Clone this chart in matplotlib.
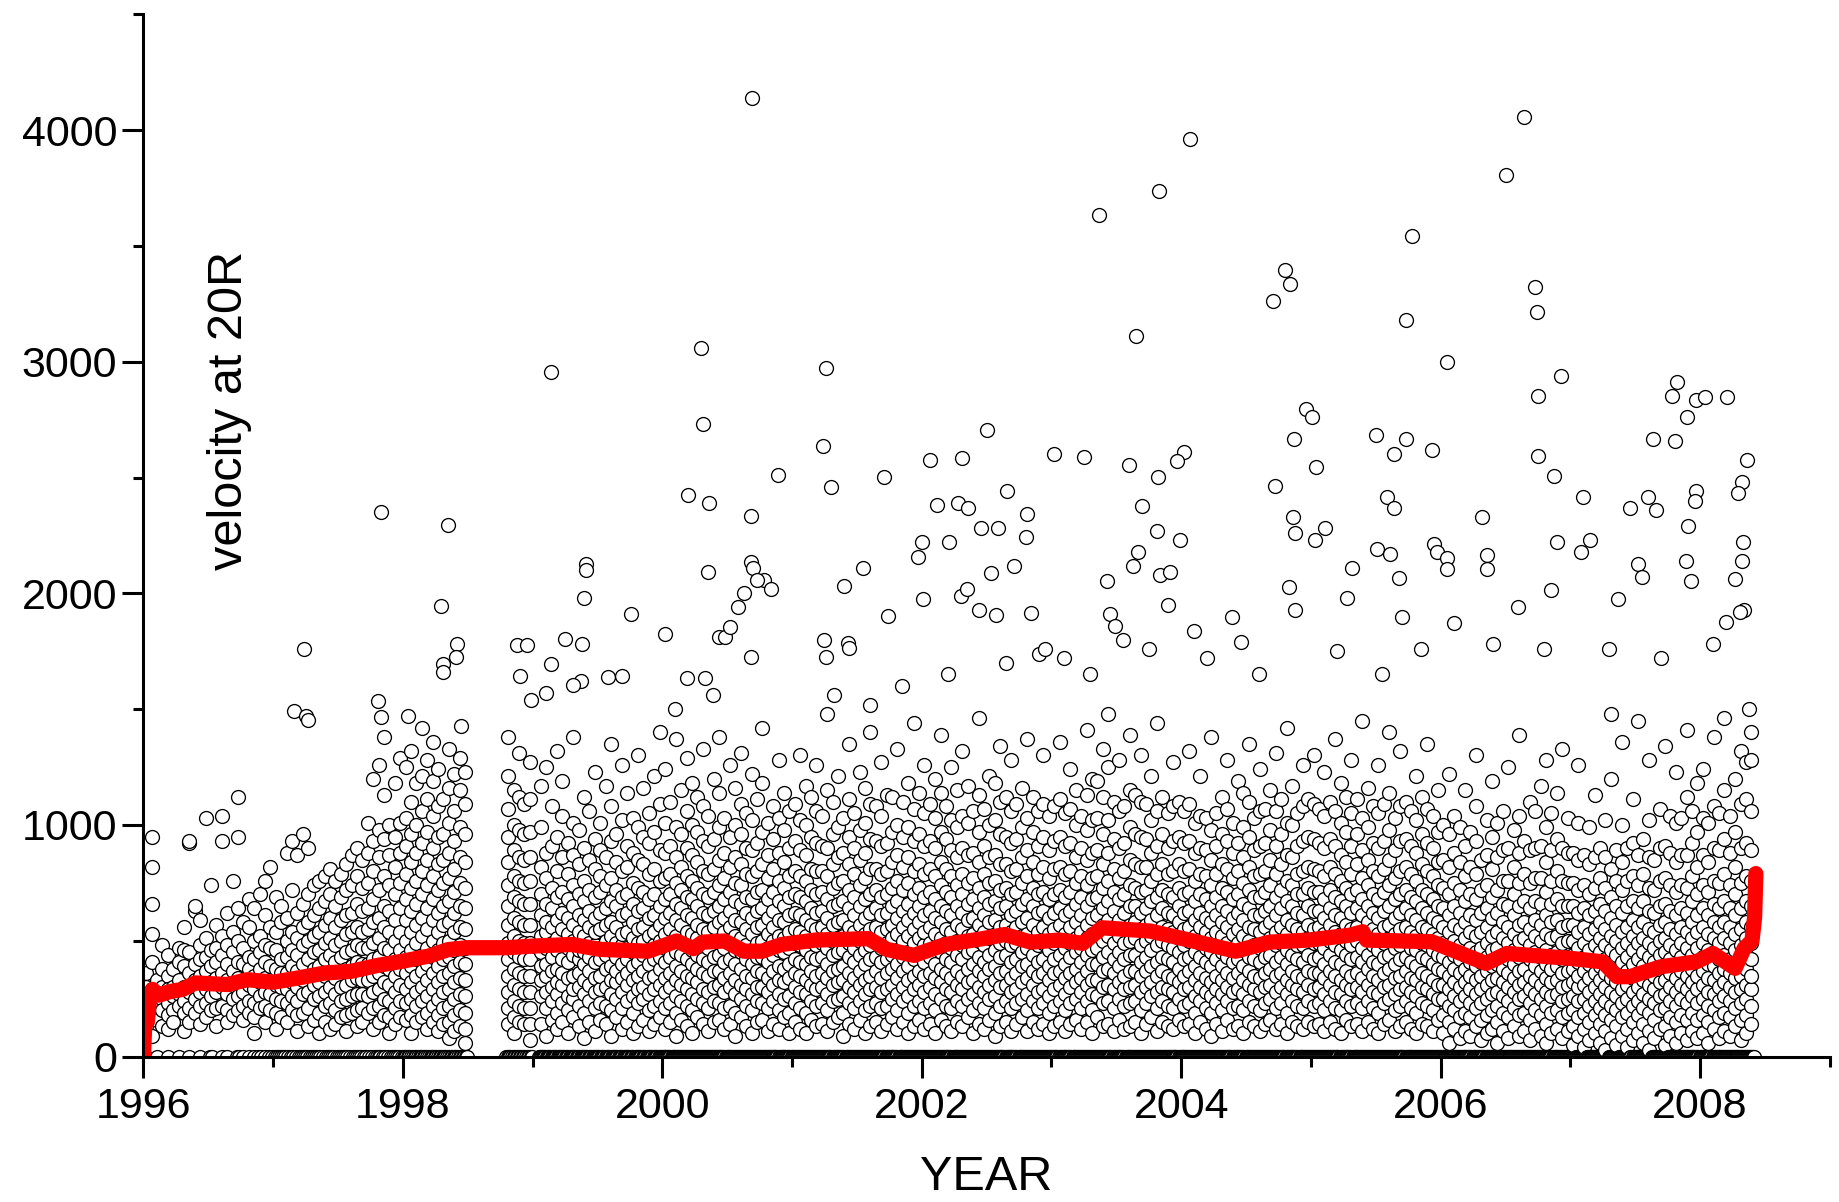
import matplotlib.pyplot as plt
import numpy as np
import matplotlib.ticker as ticker

plt.rcParams['font.family'] = ['Liberation Sans', 'DejaVu Sans']

# ===== CME speeds at 20 Rsun in half-month bins =====
# (each string = the speeds seen in one half-month, km/s; "" = data gap)
speeds_1996 = [
    "360 300 250 220 180 130 0", "950 820 530 660 410 290 240 170 90", "330 270 210 160 0",
    "480 380 300 250 200 130", "440 350 290 230 180 120 0", "380 300 260 200 150",
    "470 410 330 270 220 0", "560 460 390 300 240 190 110", "920 930 450 360 280 210 150 0",
    "630 650 400 330 250 190", "590 480 420 350 280 220 140 0", "1030 510 430 370 290 230 170",
    "740 460 390 320 260 200 0 0", "570 470 410 340 280 210 130", "930 1040 520 440 360 300 220 0",
    "620 480 400 330 270 200 150 0", "760 540 450 370 310 250 180", "1120 950 640 500 410 340 260 200 0 0",
    "580 470 400 330 280 220 160 0", "680 560 430 380 310 240 190 0", "640 500 420 350 290 230 170 100 0",
    "700 520 450 380 320 260 210 0 0", "760 610 480 410 340 280 220 150 0", "820 560 470 390 330 270 200 0 0",
]
speeds_1997 = [
    "690 540 460 380 310 250 190 120 0", "650 580 420 360 300 240 170 0 0",
    "880 600 500 430 360 290 230 150 0", "930 720 540 460 390 320 260 200 0",
    "870 620 510 440 370 300 240 180 110 0", "960 660 560 480 400 330 270 190 0 0",
    "900 700 580 500 420 350 280 210 130 0", "740 610 520 450 380 310 250 160 0 0",
    "760 640 540 460 390 320 260 190 100 0", "780 670 570 490 420 350 280 220 150 0",
    "810 700 600 510 440 360 300 230 120 0 0", "760 650 560 480 410 340 270 200 140 0",
    "790 690 590 500 430 370 300 240 170 0 0", "830 720 610 530 450 380 310 250 180 110 0",
    "870 740 620 540 460 390 330 260 190 0", "900 780 660 560 480 410 340 270 200 130 0 0",
    "850 730 630 540 470 400 330 270 210 150 0", "1010 880 750 640 550 470 400 330 260 190 0",
    "1200 930 800 680 580 490 420 350 280 210 120 0", "1260 980 860 720 600 510 430 360 290 220 150 0 0",
    "1380 1130 940 780 650 560 470 390 320 250 180 0", "1000 870 740 630 540 460 380 310 240 170 100 0",
    "1180 950 820 700 590 500 420 350 280 210 140 0 0", "1290 1010 880 750 640 540 460 380 310 240 170 0",
]
speeds_1998 = [
    "1250 1030 910 790 680 590 500 430 360 290 230 160 0 0",
    "1320 1100 960 840 730 630 540 460 390 320 250 180 100 0",
    "1180 1000 880 760 660 570 490 420 350 280 220 150 0",
    "1420 1210 1060 920 800 700 600 520 440 370 300 240 170 0 0",
    "1280 1110 970 850 740 640 550 470 400 330 260 190 120 0",
    "1360 1190 1040 900 780 680 590 500 430 360 290 220 150 0 0",
    "1240 1080 950 830 720 620 540 460 390 320 250 180 110 0",
    "1110 960 850 750 650 570 490 420 350 280 210 140 0 0",
    "1330 1160 1010 880 770 670 580 500 430 360 290 220 150 80 0",
    "1220 1060 930 810 710 620 540 460 390 320 250 180 110 0 0",
    "1290 1150 990 860 750 650 560 480 410 340 270 200 130 0",
    "1230 1090 960 840 730 640 550 470 400 330 260 190 120 60 0 0",
    "", "", "", "", "", "", "",
    "1380 1210 1070 950 840 740 650 570 490 420 350 280 210 140 0 0",
    "1150 1000 890 780 690 600 520 450 380 310 240 170 100 0",
    "1310 1120 980 860 760 670 580 500 430 360 290 220 150 0 0",
    "1090 960 850 750 660 570 490 420 350 280 210 140 0",
    "1270 1110 970 860 760 660 570 490 420 350 280 210 140 70 0 0",
]
speeds_1999 = [
    "", "0 0 140 260 330 390 450 520 610 700 820 990 1170",
    "0 90 210 280 350 400 470 540 580 660 770 880 1250", "0 0 160 240 300 370 430 490 560 640 730 910 1080",
    "0 120 190 270 320 380 460 510 590 690 800 950 1320", "0 0 150 230 310 360 420 480 550 620 710 860 1040 1190",
    "0 100 200 260 340 410 470 530 600 680 790 920", "0 0 170 250 290 350 440 500 570 650 740 870 1010 1380",
    "0 130 220 300 360 420 460 540 610 700 830 980", "0 0 80 190 270 330 400 450 520 590 670 760 900 1120",
    "0 150 240 310 370 430 490 560 630 720 850 1060", "0 0 110 210 280 340 410 480 540 600 690 810 940 1230",
    "0 160 230 290 350 420 470 550 620 710 780 890 1010", "0 0 140 220 300 380 440 500 570 640 740 860 1170",
    "0 90 200 270 330 390 460 520 580 670 770 930 1080 1350", "0 0 170 250 320 370 430 490 560 650 720 840 960",
    "0 120 210 280 340 400 480 530 610 690 800 1020 1260", "0 0 150 240 310 360 420 470 540 620 700 820 910 1140",
    "0 100 190 260 330 390 450 510 580 660 750 880 1030", "0 0 130 230 290 350 410 490 550 630 730 850 990 1300",
    "0 160 250 300 370 440 500 560 640 710 830 950 1160", "0 0 110 200 270 340 400 460 520 600 680 790 920 1050",
    "0 140 220 290 350 420 480 540 610 700 810 970 1210", "0 0 170 240 310 380 430 500 570 650 760 890 1090 1400",
]
speeds_2000 = [
    "0 0 120 210 280 340 410 470 530 600 680 770 880 1010 1240", "0 150 230 300 360 430 490 550 620 700 790 910 1100",
    "0 0 90 190 260 330 390 450 520 590 660 750 860 990 1370", "0 160 240 310 370 440 500 570 640 720 820 960 1150",
    "0 0 130 220 290 350 420 480 540 610 690 780 900 1060 1290", "0 100 200 270 340 400 460 530 600 680 760 870 1000 1180",
    "0 0 170 250 320 380 440 510 570 650 730 840 970 1120", "0 140 230 290 360 420 490 550 620 700 800 930 1080 1330",
    "0 0 110 210 280 350 410 470 540 610 690 790 910 1040", "0 150 240 300 370 430 500 560 630 710 810 940 1200",
    "0 0 160 230 310 370 440 500 580 650 740 850 990 1140 1380", "0 120 210 280 340 410 470 540 600 680 770 880 1030",
    "0 0 140 220 300 360 420 490 560 630 710 820 950 1260", "0 90 190 270 330 400 460 520 590 670 750 860 1000 1160",
    "0 0 170 250 310 380 450 510 580 660 740 830 960 1090 1310", "0 130 220 290 350 420 480 550 620 690 790 900 1050",
    "0 0 100 200 270 340 400 460 530 600 680 780 890 1020 1220", "0 150 240 300 370 430 490 560 630 710 800 920 1110",
    "0 0 160 230 300 360 430 500 570 640 720 830 970 1180 1420", "0 110 210 280 340 410 470 530 600 680 770 870 1010",
    "0 0 140 240 310 370 440 500 560 630 710 810 940 1080", "0 120 200 270 330 390 460 520 590 670 760 880 1030 1280",
    "0 0 170 250 320 380 450 510 580 650 730 840 980 1140", "0 100 190 260 340 400 470 540 610 690 780 900 1060",
]
speeds_2001 = [
    "0 0 150 230 300 360 420 490 550 620 700 800 930 1090", "0 120 210 280 350 410 480 540 610 690 780 890 1020 1300",
    "0 0 100 190 270 330 400 460 520 590 670 760 870 1000 1170", "0 160 240 310 370 430 500 570 640 720 810 950 1120",
    "0 0 130 220 290 350 420 480 550 620 700 800 920 1060 1260", "0 140 230 300 360 430 490 560 630 710 800 910 1040",
    "0 0 110 200 270 340 400 470 530 600 680 780 900 1150 1480", "0 150 240 310 370 440 500 570 650 730 830 960 1100",
    "0 0 170 250 320 380 450 510 580 660 750 860 990 1210", "0 90 190 260 330 390 460 520 590 670 760 880 1030",
    "0 0 140 230 300 360 430 490 560 640 720 830 950 1110 1350", "0 120 210 280 340 410 470 540 610 690 790 900 1050",
    "0 0 160 240 310 370 440 500 570 650 740 850 980 1230", "0 100 200 270 330 400 460 530 600 680 770 880 1010 1160",
    "0 0 130 220 290 350 420 480 550 620 700 810 940 1090 1400", "0 150 230 300 370 430 500 560 640 720 810 930 1080",
    "0 0 110 210 280 340 410 470 540 610 690 790 910 1040 1270", "0 140 220 290 360 420 490 550 620 700 800 920 1130",
    "0 0 170 250 310 380 440 510 570 650 730 840 970 1120", "0 120 200 270 340 400 460 530 600 670 760 870 1000 1330",
    "0 0 150 240 300 370 430 500 560 630 720 820 950 1100", "0 100 190 260 330 390 450 520 590 660 750 860 990 1180",
    "0 0 130 220 290 350 420 490 550 620 700 800 930 1070 1440", "0 160 240 310 370 440 510 580 650 730 830 960 1140",
]
speeds_2002 = [
    "0 0 120 210 280 350 410 480 540 610 690 790 910 1050 1260", "0 140 230 300 360 430 490 560 630 710 810 930 1090",
    "0 0 100 200 270 340 400 470 530 600 680 780 900 1030 1200", "0 160 250 320 380 450 510 580 650 740 840 970 1140 1390",
    "0 0 130 220 290 360 420 490 550 630 710 810 940 1080", "0 110 210 280 340 410 470 540 610 690 780 890 1020 1250",
    "0 0 150 240 310 370 440 500 570 650 740 860 990 1150", "0 130 220 290 350 420 480 550 620 700 790 900 1040 1320",
    "0 0 170 250 320 380 450 520 590 660 750 870 1010 1170", "0 100 200 270 330 400 460 530 600 680 770 880 1060",
    "0 0 140 230 300 370 430 500 570 640 730 840 970 1130 1460", "0 120 210 280 350 410 480 540 610 690 790 910 1070",
    "0 0 160 250 310 380 440 510 580 660 750 860 1000 1210", "0 90 190 260 330 390 460 520 590 670 760 870 1020 1180",
    "0 0 130 220 300 360 430 490 560 640 720 830 960 1100 1340", "0 150 240 310 370 440 500 570 650 730 830 950 1120",
    "0 0 110 210 280 340 410 480 540 610 700 800 920 1060 1280", "0 140 230 290 360 420 490 560 630 710 810 940 1090",
    "0 0 170 250 320 390 450 520 580 660 750 860 990 1160", "0 110 200 270 340 400 470 530 600 680 780 890 1030 1370",
    "0 0 150 240 310 370 440 500 570 650 730 840 970 1120", "0 120 210 280 350 410 480 540 620 700 790 910 1060",
    "0 0 140 230 290 360 420 490 560 630 710 820 950 1090 1300", "0 100 190 260 330 390 460 530 600 680 770 890 1040",
]
speeds_2003 = [
    "0 0 130 220 290 360 420 490 550 620 700 810 930 1080", "0 150 240 310 370 440 500 570 640 720 820 950 1110 1360",
    "0 0 110 200 270 340 400 470 530 610 690 790 910 1050", "0 140 230 300 360 430 490 560 630 710 800 920 1070 1240",
    "0 0 160 250 320 380 450 510 580 660 750 860 1000 1150", "0 120 210 280 340 410 470 540 610 690 780 900 1040",
    "0 0 150 240 310 370 440 510 570 650 740 850 980 1130 1410", "0 100 200 270 330 400 460 530 600 680 770 880 1020 1200",
    "0 0 170 260 330 400 470 540 610 690 780 890 1030 1190", "0 130 230 300 370 430 500 570 640 730 830 960 1120 1330",
    "0 0 140 240 310 380 450 520 590 670 760 880 1020 1250 1480", "0 110 210 290 360 420 490 560 630 710 810 940 1100",
    "0 0 160 250 320 390 450 520 590 680 770 900 1060 1280", "0 120 220 290 350 420 490 550 620 700 800 920 1080",
    "0 0 130 230 300 370 440 500 570 650 740 850 990 1150 1390", "0 150 240 310 370 440 510 580 650 730 830 960 1130",
    "0 0 100 200 280 350 410 480 550 620 710 820 950 1100 1300", "0 140 230 300 370 430 500 570 640 720 820 940 1090",
    "0 0 170 260 320 390 460 520 590 670 760 880 1020 1210", "0 110 210 280 350 410 480 540 610 690 790 910 1060 1440",
    "0 0 150 240 300 370 430 500 560 640 720 830 960 1120", "0 130 220 290 350 420 480 550 620 700 790 900 1050",
    "0 0 120 210 280 340 410 470 540 610 690 800 930 1080 1270", "0 160 250 320 380 450 510 580 650 730 830 950 1100",
]
speeds_2004 = [
    "0 0 130 220 290 350 420 480 550 620 700 800 920 1060", "0 140 230 300 370 430 500 560 630 710 810 930 1090 1320",
    "0 0 100 190 260 330 390 450 520 590 670 760 880 1010", "0 150 240 300 360 430 490 560 620 700 790 900 1040 1210",
    "0 0 120 210 280 340 410 470 540 600 680 780 890 1030", "0 90 190 260 320 390 450 510 580 650 740 850 980 1380",
    "0 0 140 230 290 350 420 480 540 610 690 790 910 1050", "0 110 200 270 330 390 450 520 580 650 730 830 960 1120",
    "0 0 160 240 300 360 430 490 560 630 710 810 930 1070 1280", "0 120 210 280 340 410 470 530 600 680 770 880 1010",
    "0 0 130 220 290 360 420 490 550 620 700 800 920 1190", "0 100 200 270 330 390 460 520 590 660 750 860 990 1140",
    "0 0 150 240 310 370 430 500 560 640 720 820 950 1100 1350", "0 130 220 290 350 420 480 550 610 690 780 890 1030",
    "0 0 110 200 280 340 410 470 540 610 690 790 910 1060 1240", "0 140 230 300 360 430 490 560 630 710 800 920 1070",
    "0 0 160 250 310 380 440 510 580 650 740 850 980 1150", "0 120 210 280 350 410 480 540 610 690 790 910 1060 1310",
    "0 0 140 230 300 360 430 490 560 640 720 830 960 1110", "0 100 190 270 330 400 460 530 590 670 760 870 1010 1420",
    "0 0 150 240 310 370 440 500 570 650 740 860 1000 1170", "0 130 220 290 350 420 480 550 620 700 790 910 1050",
    "0 0 120 210 280 340 410 480 540 610 700 800 930 1080 1260", "0 150 240 310 370 440 510 570 650 730 820 950 1110",
]
speeds_2005 = [
    "0 0 130 220 290 360 420 490 550 630 710 810 940 1090 1300", "0 140 230 300 360 430 490 560 630 710 800 920 1070",
    "0 0 110 200 270 340 400 470 530 600 680 780 900 1040 1230", "0 150 240 310 370 440 500 570 640 720 820 940 1100",
    "0 0 120 210 280 350 410 480 540 610 690 790 910 1060 1370", "0 100 200 270 330 400 460 530 600 670 760 870 1010 1180",
    "0 0 160 240 310 370 440 500 570 650 730 840 970 1120", "0 130 220 290 350 420 480 550 620 700 790 910 1050 1280",
    "0 0 140 230 300 360 430 500 560 640 720 830 960 1110", "0 110 210 280 340 410 470 540 610 680 770 890 1030 1450",
    "0 0 150 240 310 380 440 510 580 650 740 850 990 1160", "0 120 210 280 350 410 480 550 620 700 800 920 1080",
    "0 0 100 190 270 330 400 460 530 600 680 780 900 1050 1260", "0 140 230 300 360 430 490 560 630 710 810 930 1090",
    "0 0 160 250 310 380 440 510 570 650 740 850 980 1140 1400", "0 110 200 270 340 400 470 530 600 680 770 890 1030",
    "0 0 130 220 290 350 420 480 550 620 700 800 930 1080 1320", "0 150 240 300 370 430 500 560 640 720 820 940 1100",
    "0 0 120 210 280 340 410 470 540 610 690 790 910 1060", "0 100 190 260 330 390 460 520 590 670 760 880 1020 1210",
    "0 0 140 230 300 360 430 490 560 640 720 830 960 1120", "0 130 220 290 350 420 480 550 620 700 800 920 1070 1350",
    "0 0 110 200 270 330 400 460 530 600 680 780 900 1040", "0 160 250 310 380 440 510 580 650 740 840 970 1150",
]
speeds_2006 = [
    "0 0 100 180 250 310 370 430 490 560 640 730 850 1000", "0 0 60 150 220 290 350 410 470 540 610 700 820 960 1220",
    "0 120 200 260 320 380 440 500 570 650 750 880 1040", "0 0 80 170 240 300 360 420 480 550 620 720 840 990",
    "0 0 110 190 260 320 380 440 510 580 670 780 910 1150", "0 90 170 230 290 350 410 470 540 610 700 820 970",
    "0 0 130 210 270 330 390 450 520 590 680 790 930 1080 1300", "0 0 70 160 230 290 350 410 470 540 620 720 850",
    "0 100 180 250 310 370 430 490 560 640 740 870 1020", "0 0 120 200 270 330 390 460 520 600 690 810 950 1190",
    "0 0 60 150 220 280 340 400 470 540 620 720 860 1010", "0 110 190 260 320 380 440 510 580 660 760 890 1060",
    "0 0 80 170 240 300 360 420 490 560 650 760 900 1250", "0 0 130 210 280 340 400 460 530 610 700 820 980",
    "0 90 180 250 310 370 430 500 570 650 750 880 1040 1390", "0 0 110 190 260 320 380 440 510 580 670 790 930",
    "0 0 70 160 230 290 350 420 480 550 640 750 890 1100", "0 120 200 270 330 390 450 520 590 670 770 900 1060",
    "0 0 90 180 250 310 370 430 500 570 660 770 910 1170", "0 0 60 140 220 280 340 400 460 530 610 710 840 990 1280",
    "0 100 190 260 320 380 440 510 580 660 760 890 1050", "0 0 120 200 270 330 390 450 520 590 680 800 940 1140",
    "0 0 80 170 240 300 360 420 490 560 650 760 900 1330", "0 110 190 250 310 370 430 500 570 650 750 880 1030",
]
speeds_2007 = [
    "0 0 50 130 200 260 320 380 440 500 570 650 750 880", "0 0 90 170 240 300 350 410 470 540 620 720 850 1010 1260",
    "0 40 120 190 250 310 370 430 490 560 640 740 870", "0 0 70 150 220 280 340 400 460 530 610 700 830 990",
    "0 0 100 180 240 300 360 420 480 550 630 730 860 1130", "0 60 140 210 270 330 390 450 510 580 660 770 900",
    "0 0 30 110 180 240 300 360 420 480 550 630 730 860 1020", "0 0 80 160 220 280 340 400 460 520 600 690 810 1200 1480",
    "0 50 130 200 260 320 380 440 500 570 650 760 890", "0 0 90 170 230 290 350 410 470 540 620 720 840 1000 1360",
    "0 0 40 120 190 250 310 370 430 490 560 650 760 900", "0 70 150 220 280 340 400 460 520 590 670 780 920 1110",
    "0 0 100 180 240 300 360 420 490 560 640 740 870 1450", "0 0 60 140 210 270 330 390 450 510 580 670 790 940",
    "0 30 110 190 250 310 370 430 490 550 630 730 860 1020 1280", "0 0 80 160 230 290 350 410 470 540 620 720 850",
    "0 0 120 200 260 320 380 440 500 570 650 760 900 1070", "0 50 130 210 270 330 390 450 510 580 660 770 910 1340",
    "0 0 90 170 240 300 360 420 480 550 630 740 880 1040", "0 0 60 150 220 280 340 400 460 530 610 710 840 1010 1230",
    "0 100 180 250 310 370 430 490 560 640 740 870 1030", "0 0 70 160 230 290 350 410 470 540 620 730 870 1120 1410",
    "0 0 110 190 260 320 380 440 510 580 670 780 920 1060", "0 80 160 230 290 350 410 470 540 610 700 820 970 1180",
]
speeds_2008 = [
    "0 0 100 180 250 310 370 430 490 560 640 740 870 1030 1240", "0 0 60 150 220 280 340 400 460 530 610 710 840 1010",
    "0 120 200 270 330 390 450 510 580 660 760 900 1080 1380", "0 0 80 170 240 300 360 420 490 560 640 750 890 1050",
    "0 0 110 190 260 320 380 440 510 580 670 790 940 1150 1460", "0 90 170 240 300 360 420 490 560 640 740 880 1040",
    "0 0 130 210 280 340 400 460 530 610 700 820 970 1200", "0 0 70 160 230 290 350 410 480 550 640 750 900 1090 1320",
    "0 100 180 250 310 380 440 510 580 670 780 920 1110 1270", "0 0 140 220 290 350 420 490 560 650 760 890 1060 1280 1400",
]

# extra events with no measured speed (plotted at 0), per half-month, by year
no_speed_per_bin = {1996: 0, 1997: 1, 1998: 2, 1999: 3, 2000: 4, 2001: 4, 2002: 4,
                    2003: 4, 2004: 4, 2005: 4, 2006: 4, 2007: 4, 2008: 4}

# ===== Fast events (above ~1400 km/s), read one by one =====
fast_year = [
    1997.16, 1997.25, 1997.27, 1997.24, 1997.83, 1997.81, 1997.83, 1998.04, 1998.35, 1998.29,
    1998.42, 1998.41, 1998.31, 1998.31, 1998.45,
    1998.88, 1998.96, 1998.90, 1999.14, 1999.25, 1999.37, 1999.31, 1999.40, 1999.41, 1999.41,
    1999.38, 1999.14, 1999.10, 1998.99, 1999.76, 1999.58, 1999.69, 2000.02,
    2000.69, 2000.30, 2000.31, 2000.36, 2000.20, 2000.35, 2000.68, 2000.68, 2000.70, 2000.78,
    2000.84, 2000.73, 2000.89, 2000.58, 2000.63, 2000.44, 2000.48, 2000.52, 2000.68, 2000.19,
    2000.33, 2000.39, 2000.10,
    2001.26, 2001.24, 2001.30, 2001.40, 2001.55, 2001.43, 2001.44, 2001.71, 2001.25, 2001.26,
    2001.32, 2001.97, 2002.00, 2002.12, 2002.21, 2002.06, 2001.74, 2002.01, 2001.60, 2001.85,
    2002.50, 2002.31, 2002.28, 2002.36, 2002.46, 2002.59, 2002.66, 2002.81, 2002.80, 2002.71,
    2002.53, 2002.30, 2002.35, 2002.44, 2002.57, 2002.84, 2002.20, 2002.65, 2002.90, 2002.95,
    2003.02, 2003.25, 2003.37, 2003.83, 2003.65, 2003.60, 2003.82, 2004.07, 2004.02, 2003.97,
    2003.99, 2003.70, 2003.81, 2003.67, 2003.63, 2003.43, 2003.84, 2003.91, 2004.10, 2003.45,
    2003.49, 2003.10, 2003.30, 2003.55, 2003.75, 2003.90,
    2004.80, 2004.71, 2004.84, 2004.96, 2005.01, 2004.87, 2004.72, 2005.04, 2004.86, 2004.88,
    2005.11, 2005.03, 2004.39, 2004.46, 2004.83, 2004.88, 2005.32, 2005.28, 2004.20, 2004.60,
    2005.20,
    2005.50, 2005.64, 2005.78, 2005.73, 2005.73, 2005.93, 2006.05, 2005.59, 2005.64, 2005.51,
    2005.61, 2005.68, 2005.95, 2005.97, 2006.05, 2006.05, 2005.70, 2005.85, 2005.55, 2006.10,
    2006.50, 2006.64, 2006.73, 2006.74, 2006.75, 2006.93, 2006.75, 2006.87, 2007.10, 2007.15,
    2006.90, 2007.08, 2006.32, 2006.36, 2006.36, 2006.85, 2006.60, 2006.80, 2006.40,
    2007.64, 2007.46, 2007.60, 2007.66, 2007.52, 2007.55, 2007.37, 2007.78, 2007.82, 2007.81,
    2007.90, 2007.97, 2008.04, 2008.21, 2007.97, 2007.96, 2007.91, 2007.89, 2007.93, 2008.36,
    2008.32, 2008.29, 2008.33, 2008.32, 2008.27, 2008.34, 2008.31, 2008.20, 2008.10, 2007.70,
    2007.30, 2008.38,
]
fast_speed = [
    1492, 1472, 1455, 1760, 2351, 1537, 1465, 1471, 2296, 1947,
    1780, 1725, 1694, 1660, 1426,
    1775, 1775, 1643, 2958, 1805, 1623, 1603, 1982, 2129, 2099,
    1780, 1694, 1568, 1541, 1911, 1638, 1643, 1825,
    4137, 3060, 2731, 2392, 2427, 2094, 2336, 2134, 2108, 2058,
    2018, 2058, 2513, 1942, 2002, 1810, 1810, 1856, 1724, 1633,
    1633, 1560, 1500,
    2973, 2635, 2458, 2033, 2108, 1785, 1765, 2503, 1800, 1724,
    1560, 2159, 2220, 2382, 2220, 2574, 1901, 1977, 1520, 1600,
    2705, 2584, 2392, 2367, 2281, 2281, 2442, 2341, 2245, 2119,
    2089, 1987, 2018, 1927, 1906, 1917, 1650, 1700, 1740, 1760,
    2604, 2589, 3636, 3737, 3110, 2554, 2503, 3960, 2609, 2570,
    2230, 2377, 2270, 2180, 2119, 2053, 2078, 2094, 1836, 1911,
    1860, 1720, 1650, 1800, 1760, 1950,
    3398, 3262, 3338, 2796, 2761, 2665, 2463, 2544, 2331, 2260,
    2281, 2230, 1896, 1790, 2028, 1930, 2108, 1980, 1720, 1650,
    1750,
    2685, 2604, 3545, 3181, 2665, 2619, 2999, 2417, 2370, 2190,
    2170, 2068, 2215, 2180, 2154, 2104, 1900, 1760, 1650, 1870,
    3808, 4056, 3322, 3216, 2852, 2938, 2594, 2508, 2417, 2230,
    2220, 2180, 2331, 2165, 2104, 2013, 1940, 1760, 1780,
    2665, 2367, 2417, 2360, 2129, 2070, 1977, 2852, 2913, 2660,
    2761, 2837, 2847, 2847, 2442, 2397, 2291, 2139, 2053, 2574,
    2483, 2432, 2220, 2139, 2063, 1927, 1920, 1876, 1780, 1720,
    1760, 1500,
]

# ===== Running mean (red curve) =====
mean_year = [1996.00, 1996.01, 1996.03, 1996.05, 1996.07, 1996.12, 1996.20, 1996.30, 1996.40, 1996.50,
             1996.65, 1996.80, 1997.00, 1997.20, 1997.40, 1997.60, 1997.80, 1998.00, 1998.20, 1998.35,
             1998.50, 1998.80, 1999.00, 1999.30, 1999.52, 1999.89, 2000.11, 2000.24, 2000.31, 2000.48,
             2000.63, 2000.77, 2000.92, 2001.18, 2001.59, 2001.73, 2001.94, 2002.18, 2002.47, 2002.64,
             2002.84, 2003.06, 2003.24, 2003.39, 2003.76, 2004.13, 2004.42, 2004.68, 2004.98, 2005.30,
             2005.40, 2005.43, 2005.93, 2006.35, 2006.51, 2007.00, 2007.25, 2007.36, 2007.46, 2007.70,
             2007.97, 2008.10, 2008.27, 2008.34, 2008.40, 2008.42, 2008.43]
mean_speed = [0, 140, 150, 270, 290, 265, 280, 290, 318, 315,
              311, 332, 321, 340, 361, 368, 393, 412, 434, 462,
              470, 470, 477, 484, 463, 455, 499, 466, 494, 499,
              455, 455, 484, 503, 509, 463, 437, 484, 509, 527,
              494, 503, 489, 556, 542, 494, 455, 494, 503, 524,
              539, 503, 496, 402, 445, 424, 409, 345, 345, 388,
              409, 445, 381, 467, 500, 600, 790]

yearly_bins = [(1996, speeds_1996), (1997, speeds_1997), (1998, speeds_1998), (1999, speeds_1999),
               (2000, speeds_2000), (2001, speeds_2001), (2002, speeds_2002), (2003, speeds_2003),
               (2004, speeds_2004), (2005, speeds_2005), (2006, speeds_2006), (2007, speeds_2007),
               (2008, speeds_2008)]

ev_year, ev_speed = [], []
for yr, bins in yearly_bins:
    for k, s in enumerate(bins):
        if not s:
            continue
        vals = [float(v) for v in s.split()]
        moving = [v for v in vals if v > 0]
        nz = len(vals) - len(moving) + no_speed_per_bin[yr]
        # events without a measured speed sit on separate days of the bin
        for iz in range(nz):
            ev_year.append(yr + (k + (iz + 0.5) / nz) / 24.0)
            ev_speed.append(0.0)
        for v in moving:
            ev_year.append(yr + (k + 0.5) / 24.0)
            ev_speed.append(v)
ev_year += fast_year
ev_speed += fast_speed

# ===== Figure =====
fig = plt.figure(figsize=(18.39, 12.02), dpi=100)
ax = fig.add_axes([0.078, 0.121, 0.917, 0.867])

ax.plot(ev_year, ev_speed, 'o', ls='none', ms=10, mfc='white', mec='black', mew=0.95, zorder=2)
ax.plot(mean_year, mean_speed, '-', color='red', lw=11, solid_capstyle='round', zorder=3)

ax.set_xlim(1996, 2009)
ax.set_ylim(0, 4500)

# ===== Spines & ticks =====
for side in ['top', 'right']:
    ax.spines[side].set_visible(False)
for side in ['left', 'bottom']:
    ax.spines[side].set_linewidth(2.2)
    ax.spines[side].set_zorder(4)

ax.xaxis.set_major_locator(ticker.MultipleLocator(2))
ax.xaxis.set_minor_locator(ticker.FixedLocator(np.arange(1997, 2010, 2)))
ax.yaxis.set_major_locator(ticker.MultipleLocator(1000))
ax.yaxis.set_minor_locator(ticker.FixedLocator(np.arange(500, 4501, 1000)))
ax.tick_params(axis='both', which='major', direction='out', length=15, width=2.2, labelsize=31)
ax.tick_params(axis='both', which='minor', direction='out', length=7, width=2.2)
ax.tick_params(axis='x', which='major', pad=7)
ax.tick_params(axis='y', which='major', pad=4)

# ===== Labels =====
ax.text(0.051, 0.62, 'velocity at 20R', transform=ax.transAxes, rotation=90,
        ha='center', va='center', fontsize=35)
fig.text(0.536, 0.02, 'YEAR', ha='center', va='center', fontsize=35)

plt.savefig('out.png', dpi=100)
